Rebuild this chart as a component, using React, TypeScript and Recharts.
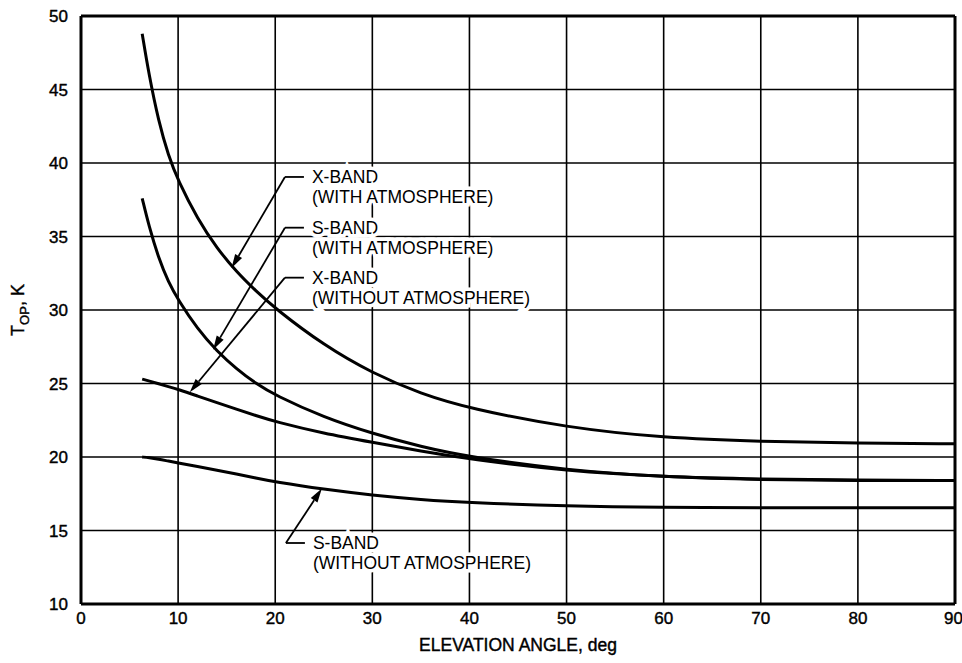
import React from "react";
import { CartesianGrid, Line, LineChart, ReferenceLine, XAxis, YAxis } from "recharts";

const elevation = [6.3, 7, 8, 9, 10, 12, 14, 16, 18, 20, 25, 30, 35, 40, 50, 60, 70, 80, 90];
const xBandAtm = [48.8, 46.0, 42.8, 40.5, 38.8, 36.2, 34.2, 32.6, 31.3, 30.1, 27.6, 25.7, 24.3, 23.3, 22.0, 21.3, 21.05, 20.95, 20.9];
const sBandAtm = [37.6, 35.7, 33.5, 31.9, 30.7, 28.7, 27.2, 26.0, 25.0, 24.2, 22.7, 21.6, 20.7, 20.0, 19.1, 18.65, 18.45, 18.4, 18.4];
const xBandNoAtm = [25.3, 25.17, 24.98, 24.79, 24.6, 24.15, 23.7, 23.25, 22.82, 22.4, 21.6, 21.0, 20.4, 19.85, 19.05, 18.65, 18.5, 18.42, 18.4];
const sBandNoAtm = [20.0, 19.95, 19.85, 19.72, 19.6, 19.35, 19.1, 18.85, 18.57, 18.3, 17.8, 17.4, 17.1, 16.9, 16.65, 16.56, 16.55, 16.55, 16.55];

const xTicks = [0, 10, 20, 30, 40, 50, 60, 70, 80, 90];
const yTicks = [10, 15, 20, 25, 30, 35, 40, 45, 50];

// label elbow point -> arrow tip on the curve
const notes = [
  { lines: ["X-BAND", "(WITH ATMOSPHERE)"], from: { x: 21.0, y: 39.05 }, to: { x: 15.5, y: 32.85 } },
  { lines: ["S-BAND", "(WITH ATMOSPHERE)"], from: { x: 21.0, y: 35.6 }, to: { x: 13.6, y: 27.3 } },
  { lines: ["X-BAND", "(WITHOUT ATMOSPHERE)"], from: { x: 21.0, y: 32.2 }, to: { x: 11.2, y: 24.4 } },
  { lines: ["S-BAND", "(WITHOUT ATMOSPHERE)"], from: { x: 21.1, y: 14.15 }, to: { x: 24.8, y: 17.85 } },
];

const data = elevation.map((e, i) => ({
  e,
  xa: xBandAtm[i],
  sa: sBandAtm[i],
  xn: xBandNoAtm[i],
  sn: sBandNoAtm[i],
}));

const font = "'Liberation Sans', Arial, sans-serif";

function noteShape(lines: string[]) {
  return (p: any) => {
    const { x1, y1, x2, y2 } = p;
    const dx = x2 - x1;
    const dy = y2 - y1;
    const len = Math.sqrt(dx * dx + dy * dy);
    const ux = dx / len;
    const uy = dy / len;
    const hl = 14;
    const hw = 4;
    const bx = x2 - ux * hl;
    const by = y2 - uy * hl;
    const head = `${x2},${y2} ${bx - uy * hw},${by + ux * hw} ${bx + uy * hw},${by - ux * hw}`;
    return (
      <g>
        <line x1={x1} y1={y1} x2={bx} y2={by} stroke="#000" strokeWidth={1.8} />
        <line x1={x1} y1={y1} x2={x1 + 19} y2={y1} stroke="#000" strokeWidth={1.8} />
        <polygon points={head} fill="#000" />
        {lines.map((t, i) => (
          <text
            key={i}
            x={x1 + 27}
            y={y1 + 6 + i * 20}
            fontSize={17.5}
            fontFamily={font}
            fill="#000"
            stroke="#fff"
            strokeWidth={7}
            paintOrder="stroke"
          >
            {t}
          </text>
        ))}
      </g>
    );
  };
}

const YLabel = () => {
  const cx = 24;
  const cy = 310;
  return (
    <text
      x={cx}
      y={cy}
      transform={`rotate(-90 ${cx} ${cy})`}
      textAnchor="middle"
      fontSize={18}
      fontFamily={font}
      fill="#000"
      stroke="#000"
      strokeWidth={0.4}
    >
      T<tspan fontSize={13} dy={5}>OP</tspan>
      <tspan dy={-5}>, K</tspan>
    </text>
  );
};

export default function App() {
  const tick = { fill: "#000", fontSize: 17, fontFamily: font, stroke: "#000", strokeWidth: 0.4 };
  return (
    <div style={{ position: "absolute", left: 0, top: 0, background: "#fff" }}>
      <LineChart width={962} height={663} data={data} margin={{ top: 16, right: 7, bottom: 29, left: 21 }}>
        <CartesianGrid stroke="#000" strokeWidth={1.6} horizontalValues={yTicks} verticalValues={xTicks} />
        <XAxis
          dataKey="e"
          type="number"
          domain={[0, 90]}
          ticks={xTicks}
          tickLine={false}
          axisLine={{ stroke: "#000", strokeWidth: 3 }}
          tick={tick}
          tickMargin={2}
          height={30}
          label={{
            value: "ELEVATION ANGLE, deg",
            position: "insideBottom",
            offset: -17,
            fill: "#000",
            fontSize: 17.5,
            fontFamily: font,
            stroke: "#000",
            strokeWidth: 0.4,
          }}
        />
        <YAxis
          type="number"
          domain={[10, 50]}
          ticks={yTicks}
          tickLine={false}
          axisLine={{ stroke: "#000", strokeWidth: 3 }}
          tick={tick}
          tickMargin={7}
          width={60}
          label={<YLabel />}
        />
        <ReferenceLine x={90} stroke="#000" strokeWidth={3} />
        <ReferenceLine y={50} stroke="#000" strokeWidth={3} />
        {notes.map((n, i) => (
          <ReferenceLine key={i} segment={[n.from, n.to]} ifOverflow="visible" shape={noteShape(n.lines)} />
        ))}
        <Line dataKey="xa" type="basis" stroke="#000" strokeWidth={3} dot={false} isAnimationActive={false} />
        <Line dataKey="sa" type="basis" stroke="#000" strokeWidth={3} dot={false} isAnimationActive={false} />
        <Line dataKey="xn" type="basis" stroke="#000" strokeWidth={3} dot={false} isAnimationActive={false} />
        <Line dataKey="sn" type="basis" stroke="#000" strokeWidth={3} dot={false} isAnimationActive={false} />
      </LineChart>
    </div>
  );
}
